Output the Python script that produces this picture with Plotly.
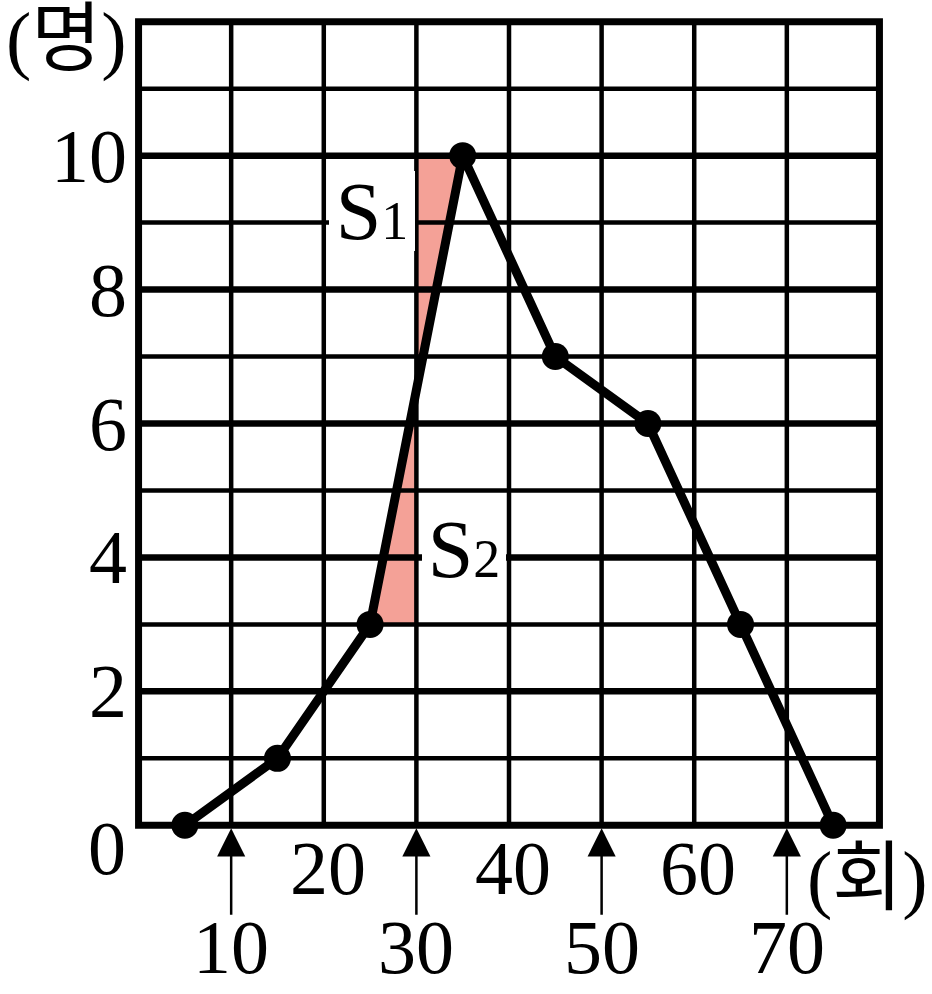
import plotly.graph_objects as go

# ---- data ----
boundaries = [0, 10, 20, 30, 40, 50, 60, 70, 80]
midpoints = [5, 15, 25, 35, 45, 55, 65, 75]
counts = [0, 1, 3, 10, 7, 6, 3, 0]
y_max = 12
y_tick_labels = [2, 4, 6, 8, 10]
x_upper_labels = [20, 40, 60]
x_lower_labels = [10, 30, 50, 70]
split_x = 30          # class boundary used for S1 / S2
x_unit = "(회)"
y_unit = "(명)"

FONT = "Liberation Serif, Noto Sans CJK KR, serif"
FILL = "#F4A197"

# line value at the class boundary (between midpoints 25 and 35)
i = next(k for k in range(len(midpoints) - 1) if midpoints[k] <= split_x <= midpoints[k + 1])
x0m, x1m = midpoints[i], midpoints[i + 1]
y0c, y1c = counts[i], counts[i + 1]
y_split = y0c + (split_x - x0m) * (y1c - y0c) / (x1m - x0m)

fig = go.Figure()

# shaded regions S1 and S2
fig.add_trace(go.Scatter(x=[split_x, x1m, split_x], y=[y1c, y1c, y_split],
                         fill="toself", fillcolor=FILL, mode="none", hoverinfo="skip"))
fig.add_trace(go.Scatter(x=[x0m, split_x, split_x], y=[y0c, y0c, y_split],
                         fill="toself", fillcolor=FILL, mode="none", hoverinfo="skip"))

# grid lines
xmin, xmax = boundaries[0], boundaries[-1]
vx, vy = [], []
for b in boundaries[1:-1]:
    vx += [b, b, None]
    vy += [0, y_max, None]
thin_x, thin_y, thick_x, thick_y = [], [], [], []
for v in range(1, y_max):
    if v % 2:
        thin_x += [xmin, xmax, None]
        thin_y += [v, v, None]
    else:
        thick_x += [xmin, xmax, None]
        thick_y += [v, v, None]
fig.add_trace(go.Scatter(x=vx, y=vy, mode="lines", line=dict(color="black", width=4.5), hoverinfo="skip"))
fig.add_trace(go.Scatter(x=thin_x, y=thin_y, mode="lines", line=dict(color="black", width=4.5), hoverinfo="skip"))
fig.add_trace(go.Scatter(x=thick_x, y=thick_y, mode="lines", line=dict(color="black", width=6.5), hoverinfo="skip"))
xmid = (xmin + xmax) / 2
fig.add_trace(go.Scatter(x=[xmid, xmax, xmax, xmin, xmin, xmid], y=[0, 0, y_max, y_max, 0, 0],
                         mode="lines", line=dict(color="black", width=7), hoverinfo="skip"))

# frequency polygon
fig.add_trace(go.Scatter(x=midpoints, y=counts, mode="lines+markers",
                         line=dict(color="black", width=9),
                         marker=dict(size=27, color="black"),
                         cliponaxis=False, hoverinfo="skip"))

ann = []
def label(text, x, y, xs=0, ys=0, size=76, xanchor="center", **kw):
    ann.append(dict(text=text, x=x, y=y, xref="x", yref="y", showarrow=False,
                    xshift=xs, yshift=ys, xanchor=xanchor, yanchor="middle",
                    font=dict(family=FONT, size=size, color="black"), **kw))

for v in y_tick_labels:
    label(str(v), 0, v, xs=-10, xanchor="right")
label("0", 0, 0, xs=-31.5, ys=-22.5)
for v in x_upper_labels:
    label(str(v), v, 0, xs=4, ys=-42.5)
for v in x_lower_labels:
    label(str(v), v, 0, xs=0, ys=-121.5)
    ann.append(dict(x=v, y=0, xref="x", yref="y", ax=0, ay=91, axref="pixel", ayref="pixel",
                    text="", showarrow=True, arrowhead=2, arrowsize=2.25, arrowwidth=2.5,
                    arrowcolor="black", standoff=3))
label(x_unit, xmax, 0, xs=-11.5, ys=-53.5)
label(y_unit, 0, y_max, xs=-72.5, ys=-18)

# S labels with white background
label('S<span style="font-size:54px">1</span>', 25, 9, xs=1.5, ys=12, size=82,
      bgcolor="white", borderpad=0, borderwidth=0, width=86, height=80)
label('S<span style="font-size:54px">2</span>', 35, 4, xs=1.5, ys=8.5, size=82,
      bgcolor="white", borderpad=0, borderwidth=0, width=84, height=80)

fig.update_layout(
    width=932, height=994,
    margin=dict(l=133.45, r=47.45, t=14.8, b=162.3),
    paper_bgcolor="white", plot_bgcolor="white",
    showlegend=False,
    annotations=ann,
    xaxis=dict(range=[-0.6, 80.6], showgrid=False, zeroline=False, showticklabels=False,
               ticks="", showline=False, fixedrange=True),
    yaxis=dict(range=[-0.1, 12.1], showgrid=False, zeroline=False, showticklabels=False,
               ticks="", showline=False, fixedrange=True),
)

# remove the default 8px page margin so the figure sits at the window's top-left corner
fig.write_html("out.html", config={"displayModeBar": False},
               post_script="document.body.style.margin='0px';")
